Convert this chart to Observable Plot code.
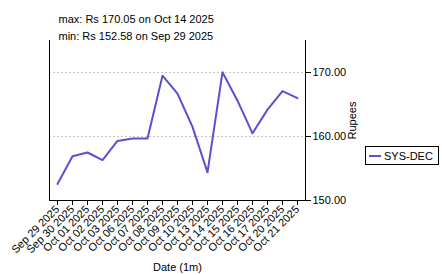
<!DOCTYPE html>
<html>
<head>
<meta charset="utf-8">
<script src="https://cdn.jsdelivr.net/npm/d3@7"></script>
<script src="https://cdn.jsdelivr.net/npm/@observablehq/plot@0.6"></script>
<style>
  html, body { margin: 0; padding: 0; background: white; }
  #wrap { position: relative; width: 442px; height: 275px; font-family: "Liberation Sans", Arial, sans-serif; }
  #legend { position: absolute; left: 365px; top: 146px; width: 72px; height: 17px; border: 1px solid black; background: white; font-size: 11px; display: flex; align-items: center; }
  #legend .sw { display: inline-block; width: 12px; height: 2px; background: #5b50d0; margin-left: 3px; margin-right: 3px; }
</style>
</head>
<body>
<div id="wrap"><div id="legend"><span class="sw"></span><span>SYS-DEC</span></div></div>
<script>
const dates = ["Sep 29 2025","Sep 30 2025","Oct 01 2025","Oct 02 2025","Oct 03 2025","Oct 06 2025","Oct 07 2025","Oct 08 2025","Oct 09 2025","Oct 10 2025","Oct 13 2025","Oct 14 2025","Oct 15 2025","Oct 16 2025","Oct 17 2025","Oct 20 2025","Oct 21 2025"];
const prices = [152.58,156.9,157.5,156.3,159.3,159.7,159.7,169.5,166.7,161.5,154.4,170.05,165.6,160.5,164.2,167.1,166.0];
const yTicks = [150,160,170];
const gridValues = [160,170];
const titleLines = ["max: Rs 170.05 on Oct 14 2025", "min: Rs 152.58 on Sep 29 2025"];
const seriesName = "SYS-DEC";

const data = dates.map((d, i) => ({date: d, price: prices[i]}));

const chart = Plot.plot({
  width: 442, height: 275,
  marginLeft: 49, marginRight: 137, marginTop: 40, marginBottom: 75,
  style: {fontFamily: "Liberation Sans, Arial, sans-serif", fontSize: "11px", color: "black", background: "white"},
  x: {type: "point", domain: dates, padding: 0.45},
  y: {domain: [150, 175]},
  marks: [
    Plot.gridY(gridValues, {stroke: "#c4c4c4", strokeOpacity: 1, strokeDasharray: "2,2"}),
    Plot.frame({anchor: "left", stroke: "black"}),
    Plot.frame({anchor: "right", stroke: "black"}),
    Plot.frame({anchor: "bottom", stroke: "black"}),
    Plot.axisX({tickRotate: -45, tickSize: 5, tickPadding: 2, label: "Date (1m)", labelAnchor: "center", labelOffset: 70, labelArrow: "none"}),
    Plot.axisY({anchor: "right", ticks: yTicks, tickFormat: d => d.toFixed(2), tickSize: 5, tickPadding: 2, label: "Rupees", labelAnchor: "center", labelOffset: 50, labelArrow: "none"}),
    Plot.lineY(data, {x: "date", y: "price", stroke: "#5b50d0", strokeWidth: 2}),
    Plot.text([titleLines[0]], {frameAnchor: "top-left", dx: 9, dy: -18, lineAnchor: "bottom", text: d => d, fontSize: 11}),
    Plot.text([titleLines[1]], {frameAnchor: "top-left", dx: 9, dy: -1, lineAnchor: "bottom", text: d => d, fontSize: 11})
  ]
});
document.getElementById("wrap").prepend(chart);
</script>
</body>
</html>
